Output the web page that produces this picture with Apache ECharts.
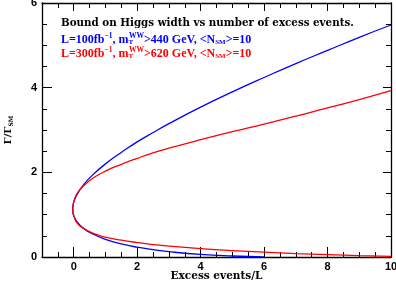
<!DOCTYPE html>
<html>
<head>
<meta charset="utf-8">
<script src="https://cdn.jsdelivr.net/npm/echarts@6/dist/echarts.min.js"></script>
<style>html,body{margin:0;padding:0;background:#fff}#c{width:396px;height:284px}</style>
</head>
<body>
<div id="c"></div>
<script>
// ---- data (ordered along each curve: lower branch -> vertex -> upper branch) ----
const blueX = [6.0, 5.0, 4.0, 3.0, 2.5, 2.0, 1.5, 1.0, 0.6, 0.3, 0.1, 0.0, -0.02, -0.03, -0.02, 0.0, 0.1, 0.3, 0.6, 1.0, 1.5, 2.0, 2.5, 3.0, 4.0, 5.0, 6.0, 7.0, 8.0, 9.0, 10.0];
const blueY = [0.0, 0.024, 0.062, 0.126, 0.172, 0.231, 0.311, 0.419, 0.543, 0.682, 0.835, 0.98, 1.043, 1.13, 1.22, 1.29, 1.474, 1.70, 1.94, 2.20, 2.47, 2.72, 2.94, 3.15, 3.54, 3.90, 4.24, 4.57, 4.88, 5.19, 5.48];
const redX = [10.0, 9.0, 8.0, 7.0, 6.0, 5.0, 4.0, 3.0, 2.5, 2.0, 1.5, 1.0, 0.6, 0.3, 0.1, 0.0, -0.02, -0.03, -0.02, 0.0, 0.1, 0.3, 0.6, 1.0, 1.5, 2.0, 2.5, 3.0, 4.0, 5.0, 6.0, 7.0, 8.0, 9.0, 10.0];
const redY = [0.016, 0.033, 0.055, 0.081, 0.114, 0.152, 0.199, 0.257, 0.294, 0.341, 0.397, 0.469, 0.564, 0.682, 0.808, 0.972, 1.032, 1.13, 1.232, 1.30, 1.49, 1.675, 1.86, 2.03, 2.19, 2.33, 2.46, 2.57, 2.77, 2.96, 3.14, 3.33, 3.52, 3.72, 3.93];
const xMajor = [0, 2, 4, 6, 8, 10];
const xMinor = [-0.5, 0.5, 1, 1.5, 2.5, 3, 3.5, 4.5, 5, 5.5, 6.5, 7, 7.5, 8.5, 9, 9.5];
const yMajor = [0, 2, 4, 6];
const yMinor = [0.5, 1, 1.5, 2.5, 3, 3.5, 4.5, 5, 5.5];

const serif = '"DejaVu Serif", "Liberation Serif", serif';
const lserif = '"Liberation Serif", "Times New Roman", serif';
const sans = '"Liberation Sans", Arial, sans-serif';

function zip(a, b) { return a.map((v, i) => [v, b[i]]); }

function xAx(pos, ticks, len, labels, lineShow) {
  return {
    type: 'value', min: -1, max: 10, position: pos,
    axisLine: { show: lineShow, onZero: false, lineStyle: { color: '#000', width: 1.3 } },
    axisTick: { show: true, inside: true, length: len, customValues: ticks, lineStyle: { color: '#000', width: 1 } },
    axisLabel: labels ? { show: true, customValues: ticks, color: '#000', fontFamily: sans, fontWeight: 'bold', fontSize: 11, margin: 4 } : { show: false },
    splitLine: { show: false }
  };
}
function yAx(pos, ticks, len, labels, lineShow) {
  return {
    type: 'value', min: 0, max: 6, position: pos,
    axisLine: { show: lineShow, onZero: false, lineStyle: { color: '#000', width: 1.3 } },
    axisTick: { show: true, inside: true, length: len, customValues: ticks, lineStyle: { color: '#000', width: 1 } },
    axisLabel: labels ? { show: true, customValues: ticks, color: '#000', fontFamily: sans, fontWeight: 'bold', fontSize: 11, margin: 5 } : { show: false },
    splitLine: { show: false }
  };
}

const xs = [xAx('bottom', xMajor, 10, true, true), xAx('bottom', xMinor, 5, false, false), xAx('top', xMajor, 8, false, true), xAx('top', xMinor, 5, false, false)];
xs[0].name = 'Excess events/L';
xs[0].nameLocation = 'middle';
xs[0].nameGap = 14;
xs[0].nameMoveOverlap = false;
xs[0].nameTextStyle = { color: '#000', fontFamily: serif, fontWeight: 'bold', fontSize: 10.5 };

const ys = [yAx('left', yMajor, 10, true, true), yAx('left', yMinor, 5, false, false), yAx('right', yMajor, 8, false, true), yAx('right', yMinor, 5, false, false)];
ys[0].name = 'Γ/Γ{s|SM}';
ys[0].nameLocation = 'middle';
ys[0].nameGap = 28;
ys[0].nameMoveOverlap = false;
ys[0].nameTextStyle = { color: '#000', fontFamily: serif, fontWeight: 'bold', fontSize: 10,
  rich: { s: { fontFamily: serif, fontWeight: 'bold', fontSize: 6, padding: [5, 0, 0, 0] } } };

const richBase = (c) => ({
  a: { fontFamily: lserif, fontWeight: 'bold', fontSize: 12, fill: c },
  sup: { fontFamily: lserif, fontWeight: 'bold', fontSize: 7.5, fill: c, padding: [0, 0, 7, 0] },
  sub: { fontFamily: lserif, fontWeight: 'bold', fontSize: 7, fill: c, padding: [5, 0, 0, 0] },
  subz: { fontFamily: lserif, fontWeight: 'bold', fontSize: 7, fill: c, padding: [5, 0, 0, 0], width: 0.5 }
});
function legendText(lumi, cut) {
  return '{a|L=' + lumi + 'fb}{sup|−1}{a|, m}{subz|T}{sup|WW}{a|>' + cut + ' GeV, <N}{sub|SM}{a|>=10}';
}

const chart = echarts.init(document.getElementById('c'), null, { renderer: 'canvas' });
chart.setOption({
  animation: false,
  grid: { left: 42, right: 5, top: 3, bottom: 27, containLabel: false, outerBoundsMode: 'none' },
  xAxis: xs,
  yAxis: ys,
  series: [
    { type: 'line', data: zip(blueX, blueY), smooth: true, showSymbol: false, clip: true,
      lineStyle: { color: '#0000ff', width: 1.3 }, xAxisIndex: 0, yAxisIndex: 0 },
    { type: 'line', data: zip(redX, redY), smooth: true, showSymbol: false, clip: true,
      lineStyle: { color: '#ff0000', width: 1.3 }, xAxisIndex: 0, yAxisIndex: 0 }
  ],
  graphic: [
    { type: 'text', left: 61, top: 18, style: { text: 'Bound on Higgs width vs number of excess events.', fill: '#000', font: 'bold 10.3px ' + serif } },
    { type: 'text', left: 61, top: 32, style: { text: legendText('100', '440'), rich: richBase('#0000ff'), fill: '#0000ff' } },
    { type: 'text', left: 61, top: 46, style: { text: legendText('300', '620'), rich: richBase('#ff0000'), fill: '#ff0000' } }
  ]
});
</script>
</body>
</html>
